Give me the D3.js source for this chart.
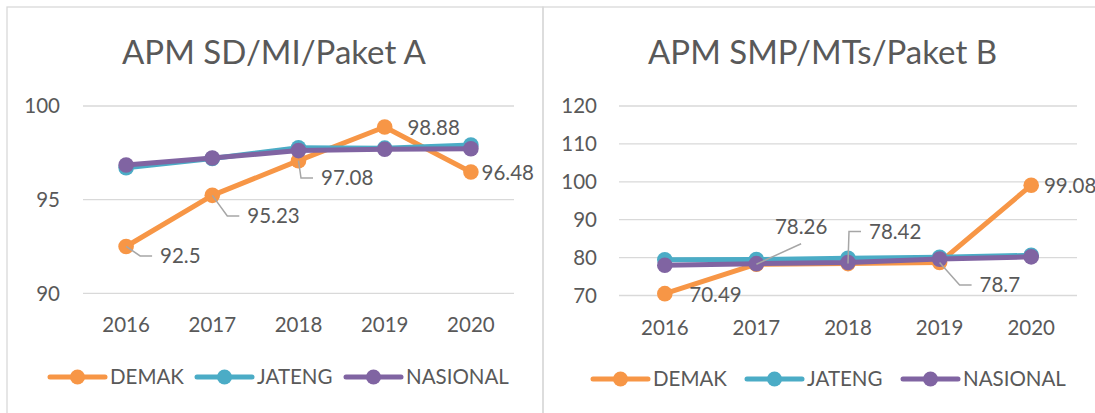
<!DOCTYPE html>
<html>
<head>
<meta charset="utf-8">
<script src="https://cdn.jsdelivr.net/npm/d3@7"></script>
<style>
  html, body { margin: 0; padding: 0; background: #fff; }
  svg { display: block; }
  text { font-family: Lato, "Open Sans", sans-serif; fill: #595959; }
</style>
</head>
<body>
<svg id="main" width="1095" height="413"></svg>
<script>
// data
const years = ["2016", "2017", "2018", "2019", "2020"];
const seriesNames = ["DEMAK", "JATENG", "NASIONAL"];

const sdDemak = [92.5, 95.23, 97.08, 98.88, 96.48];
const sdJateng = [96.7, 97.2, 97.77, 97.75, 97.92];
const sdNasional = [96.85, 97.22, 97.62, 97.69, 97.72];
const sdTicks = [90, 95, 100];

const smpDemak = [70.49, 78.26, 78.42, 78.7, 99.08];
const smpJateng = [79.4, 79.5, 79.8, 80.1, 80.6];
const smpNasional = [78.0, 78.4, 78.7, 79.6, 80.2];
const smpTicks = [70, 80, 90, 100, 110, 120];

const colors = ["#F79646", "#4BACC6", "#8064A2"];
const fs = "20.5px";

let svg = d3.select("#main");

function drawChart(cfg) {
  let g = svg.append("g");

  // chart frame
  g.append("rect")
    .attr("x", cfg.box[0]).attr("y", cfg.box[1])
    .attr("width", cfg.box[2]).attr("height", cfg.box[3])
    .attr("fill", "none")
    .attr("stroke", "#d9d9d9")
    .attr("stroke-width", 1.3);

  g.append("text")
    .attr("x", cfg.titleX).attr("y", 63.5)
    .attr("text-anchor", "middle")
    .style("font-size", "33px")
    .text(cfg.title);

  let x = d3.scaleBand().domain(years).range(cfg.xRange);
  let px = d => x(d) + x.bandwidth() / 2;
  let y = d3.scaleLinear().domain(d3.extent(cfg.ticks)).range(cfg.yRange);

  // gridlines + y labels
  g.selectAll(".grid")
    .data(cfg.ticks)
    .enter()
    .append("line")
    .attr("x1", cfg.xRange[0]).attr("x2", cfg.xRange[1])
    .attr("y1", d => y(d)).attr("y2", d => y(d))
    .attr("stroke", "#d9d9d9")
    .attr("stroke-width", 1.3);

  g.selectAll(".ytick")
    .data(cfg.ticks)
    .enter()
    .append("text")
    .attr("x", cfg.yLabelX)
    .attr("y", d => y(d) + 7.3)
    .attr("text-anchor", "end")
    .style("font-size", fs)
    .text(d => d);

  g.selectAll(".xtick")
    .data(years)
    .enter()
    .append("text")
    .attr("x", px)
    .attr("y", cfg.xLabelY)
    .attr("text-anchor", "middle")
    .style("font-size", fs)
    .text(d => d);

  let line = d3.line()
    .x((d, i) => px(years[i]))
    .y(d => y(d));

  cfg.series.forEach((vals, s) => {
    g.append("path")
      .datum(vals)
      .attr("d", line)
      .attr("fill", "none")
      .attr("stroke", colors[s])
      .attr("stroke-width", 5)
      .attr("stroke-linejoin", "round")
      .attr("stroke-linecap", "round");
    g.selectAll(".m" + s)
      .data(vals)
      .enter()
      .append("circle")
      .attr("cx", (d, i) => px(years[i]))
      .attr("cy", d => y(d))
      .attr("r", 7.8)
      .attr("fill", colors[s]);
  });

  // data labels for DEMAK (manually placed, like the source)
  let demak = cfg.series[0];
  demak.forEach((v, i) => {
    let p = cfg.labelPos[i];
    let x0 = px(years[i]), y0 = y(v);
    let tx = x0 + p[0], ty = y0 + p[1];
    let t = g.append("text")
      .attr("x", tx).attr("y", ty + 7.3)
      .style("font-size", fs)
      .text(String(v));
    if (p[2] === "elbow") {
      g.append("polyline")
        .attr("points", [[x0, y0], [tx - 20, ty], [tx - 8, ty]].join(" "))
        .attr("fill", "none")
        .attr("stroke", "#a6a6a6")
        .attr("stroke-width", 1.5);
    } else if (p[2] === "diag") {
      let w = t.node().getComputedTextLength();
      g.append("line")
        .attr("x1", x0).attr("y1", y0)
        .attr("x2", tx + w / 2).attr("y2", ty + 17)
        .attr("stroke", "#a6a6a6")
        .attr("stroke-width", 1.5);
    }
  });

  // legend
  cfg.legendX.forEach((lx, s) => {
    let ly = cfg.legendY;
    g.append("line")
      .attr("x1", lx).attr("x2", lx + 55)
      .attr("y1", ly).attr("y2", ly)
      .attr("stroke", colors[s])
      .attr("stroke-width", 5)
      .attr("stroke-linecap", "round");
    g.append("circle")
      .attr("cx", lx + 27.5).attr("cy", ly)
      .attr("r", 7.5)
      .attr("fill", colors[s]);
    g.append("text")
      .attr("x", lx + 60).attr("y", ly + 7.3)
      .style("font-size", fs)
      .text(seriesNames[s]);
  });
}

drawChart({
  box: [7, 7, 536, 420],
  title: "APM SD/MI/Paket A",
  titleX: 274,
  xRange: [83, 514],
  yRange: [293.3, 106],
  ticks: sdTicks,
  yLabelX: 60,
  xLabelY: 331.5,
  series: [sdDemak, sdJateng, sdNasional],
  labelPos: [[34, 9.5, "elbow"], [35, 20.7, "elbow"], [22.5, 17.3, "elbow"], [22.7, 1], [10.7, 1]],
  legendX: [50, 197, 346],
  legendY: 377
});

drawChart({
  box: [543, 7, 580, 420],
  title: "APM SMP/MTs/Paket B",
  titleX: 822.5,
  xRange: [619, 1077],
  yRange: [295.5, 106],
  ticks: smpTicks,
  yLabelX: 597,
  xLabelY: 334.5,
  series: [smpDemak, smpJateng, smpNasional],
  labelPos: [[24.5, 1.4], [18.5, -37.5, "diag"], [21, -32, "elbow"], [40, 22.4, "elbow"], [12.7, 0.7]],
  legendX: [593, 747, 903],
  legendY: 379
});
</script>
</body>
</html>
